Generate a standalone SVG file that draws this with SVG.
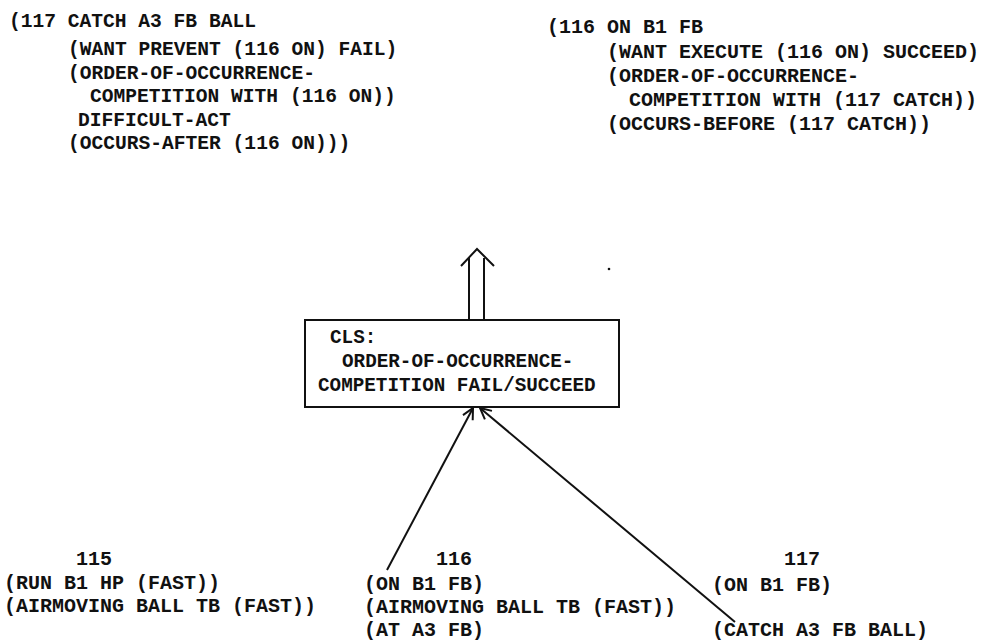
<svg xmlns="http://www.w3.org/2000/svg" width="984" height="643" viewBox="0 0 984 643">
<style>
text{font-family:"Liberation Mono","DejaVu Sans Mono",monospace;font-weight:bold;fill:#111;white-space:pre}
.t{font-size:19.6px}
.r{font-size:20px}
.b{font-size:19.3px}
.line{stroke:#111;stroke-width:2;fill:none}
</style>
<defs>
<marker id="vh" markerWidth="16" markerHeight="16" refX="12" refY="6" orient="auto" markerUnits="userSpaceOnUse" viewBox="0 0 16 12">
<path d="M1,0.5 L12,6 L1,11.5" fill="none" stroke="#111" stroke-width="2"/>
</marker>
</defs>
<rect width="984" height="643" fill="#fff"/>
<g id="node-117-catch-frame">
<text class="t" x="9" y="27">(117 CATCH A3 FB BALL</text>
<text class="t" x="68" y="55">(WANT PREVENT (116 ON) FAIL)</text>
<text class="t" x="68" y="79">(ORDER-OF-OCCURRENCE-</text>
<text class="t" x="90" y="102">COMPETITION WITH (116 ON))</text>
<text class="t" x="78" y="126">DIFFICULT-ACT</text>
<text class="t" x="68" y="149">(OCCURS-AFTER (116 ON)))</text>
</g>
<g id="node-116-on-frame">
<text class="r" x="547" y="33">(116 ON B1 FB</text>
<text class="r" x="607" y="58">(WANT EXECUTE (116 ON) SUCCEED)</text>
<text class="r" x="607" y="82">(ORDER-OF-OCCURRENCE-</text>
<text class="r" x="629" y="106">COMPETITION WITH (117 CATCH))</text>
<text class="r" x="607" y="130">(OCCURS-BEFORE (117 CATCH))</text>
</g>
<g id="node-cls">
<rect x="305" y="320" width="314" height="87" fill="none" stroke="#111" stroke-width="2"/>
<text class="b" x="330" y="343">CLS:</text>
<text class="b" x="342" y="367">ORDER-OF-OCCURRENCE-</text>
<text class="b" x="318" y="391">COMPETITION FAIL/SUCCEED</text>
</g>
<g id="node-115">
<text class="r" x="76" y="565">115</text>
<text class="r" x="4" y="589">(RUN B1 HP (FAST))</text>
<text class="r" x="4" y="612">(AIRMOVING BALL TB (FAST))</text>
</g>
<g id="node-116">
<text class="r" x="436" y="565">116</text>
<text class="r" x="364" y="590">(ON B1 FB)</text>
<text class="r" x="364" y="613">(AIRMOVING BALL TB (FAST))</text>
<text class="r" x="364" y="636">(AT A3 FB)</text>
</g>
<g id="node-117">
<text class="r" x="784" y="565">117</text>
<text class="r" x="712" y="591">(ON B1 FB)</text>
<text class="r" x="712" y="636">(CATCH A3 FB BALL)</text>
</g>
<g id="connectors">
<line class="line" x1="387" y1="570" x2="473" y2="408" marker-end="url(#vh)"/>
<line class="line" x1="735" y1="622" x2="480" y2="408" marker-end="url(#vh)"/>
<path class="line" d="M469,258 V320 M484,258 V320"/>
<path class="line" d="M461,266 L477,249 L494,266"/>
</g>
<circle cx="609" cy="269" r="1.3" fill="#111"/>
</svg>
